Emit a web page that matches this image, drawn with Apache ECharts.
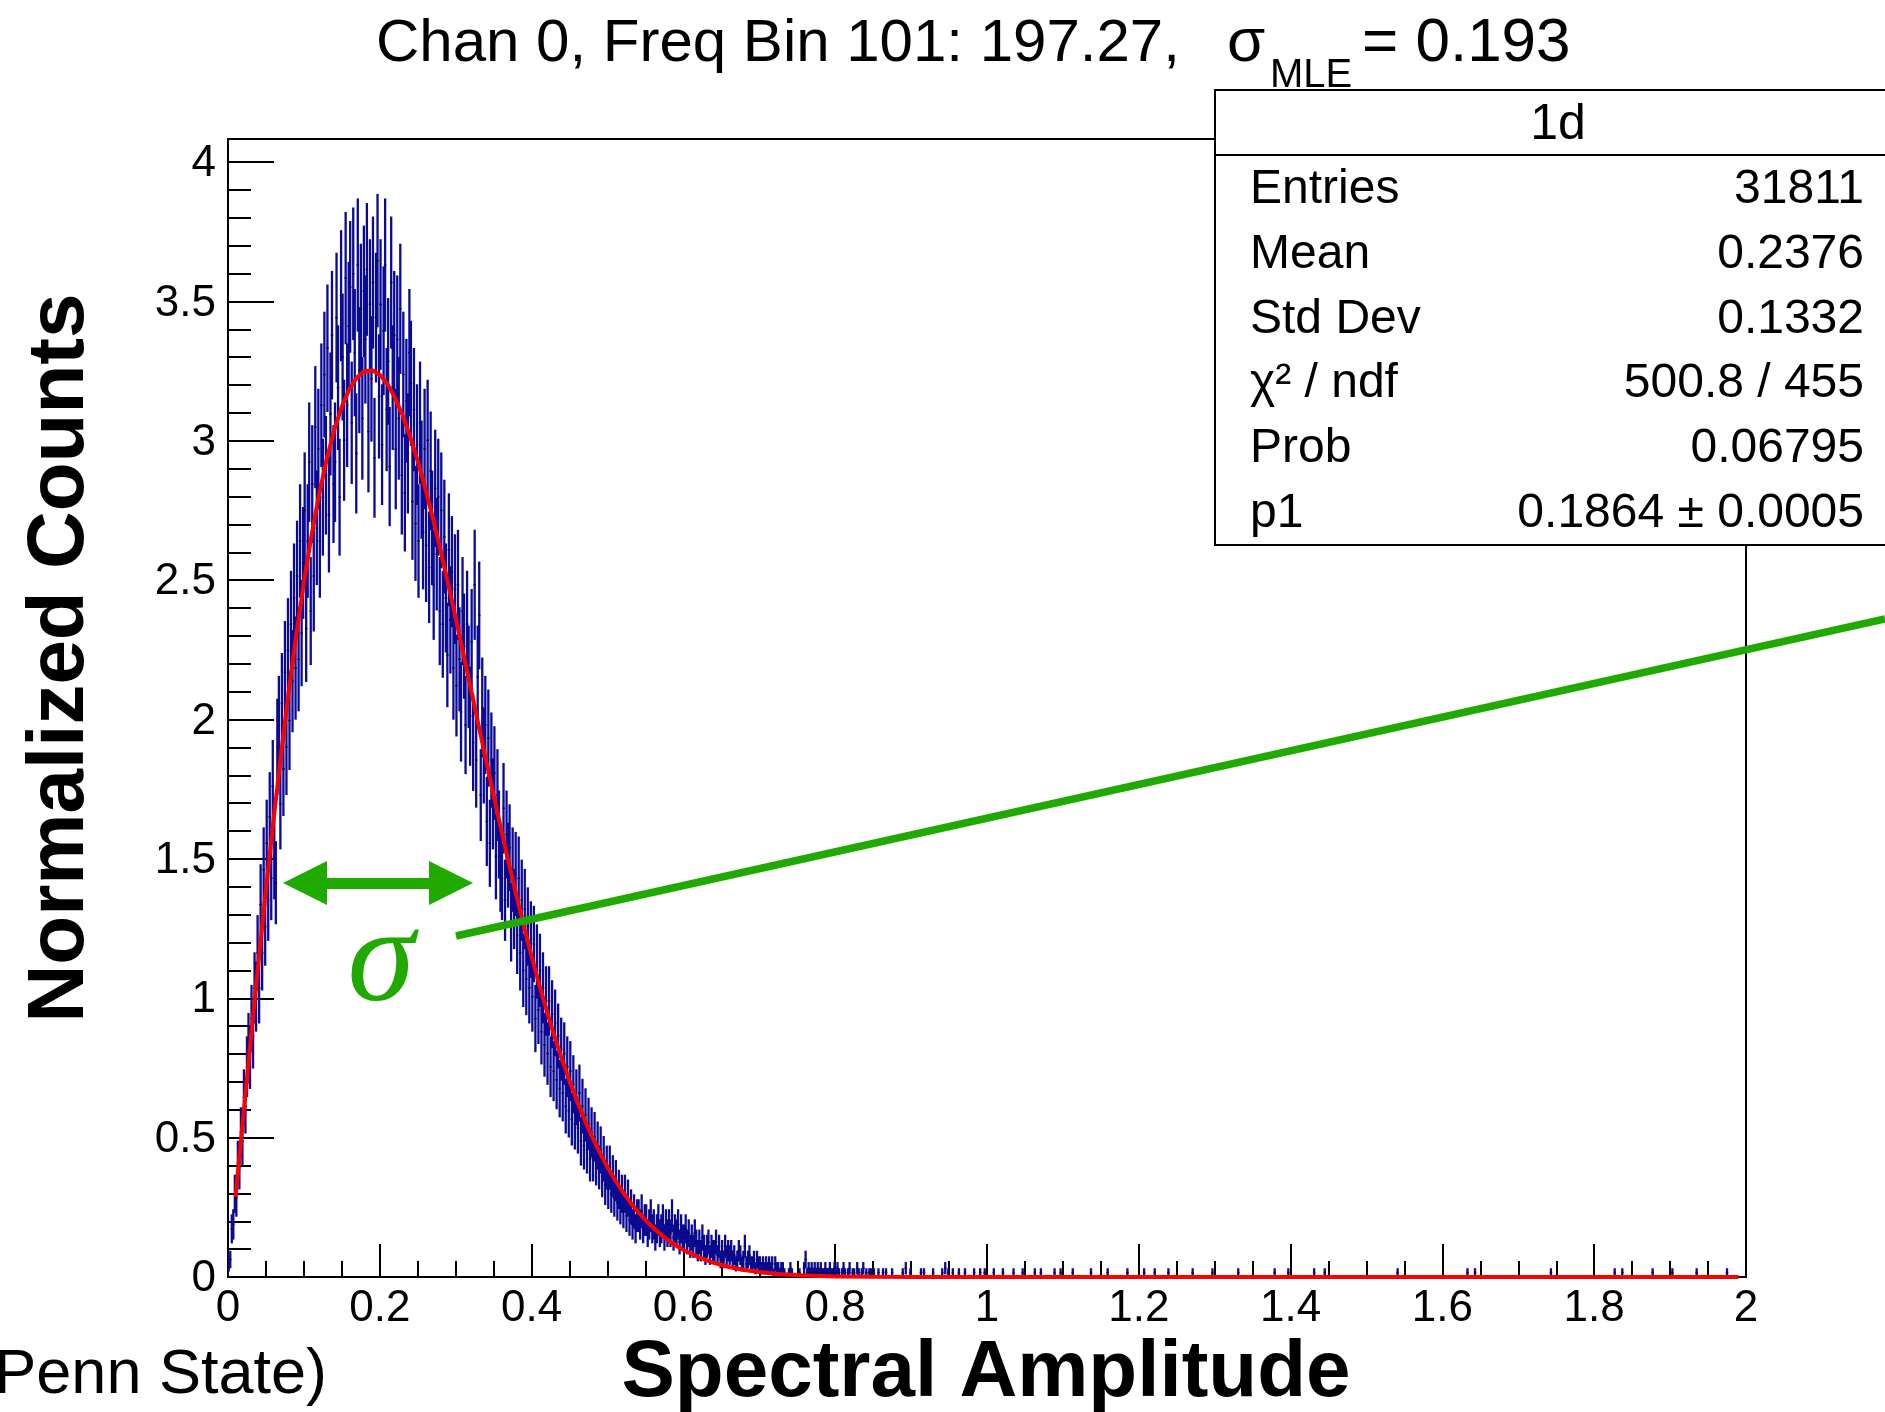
<!DOCTYPE html>
<html><head><meta charset="utf-8">
<script src="https://cdn.jsdelivr.net/npm/echarts@6/dist/echarts.min.js"></script>
<style>html,body{margin:0;padding:0;background:#fff}#c{width:1885px;height:1412px}</style>
</head><body><div id="c"></div>
<script>
// ---------------- data ----------------
const ENTRIES = 31811;
const BIN_WIDTH = 0.002;
// counts per bin, bins of width 0.002 starting at 0 (0 .. 0.8)
const counts = [
  3,4,11,12,19,18,26,25,33,31,
  41,39,48,53,50,59,55,66,64,74,
  66,85,74,93,80,99,86,105,91,112,
  96,90,121,126,108,131,116,138,121,143,
  127,149,136,155,139,160,141,168,147,163,
  175,148,168,186,152,181,160,194,171,189,
  168,199,178,206,183,212,174,197,215,181,
  186,219,203,178,224,210,191,228,199,217,
  226,195,229,211,188,231,207,221,196,225,
  214,230,193,222,205,227,187,219,232,201,
  222,190,216,231,198,209,185,227,203,215,
  189,214,196,221,183,206,179,200,188,211,
  204,177,198,172,190,168,195,182,170,189,
  167,191,162,184,171,158,180,165,178,152,
  175,149,169,155,142,166,150,161,139,157,
  135,158,141,129,152,144,126,149,137,128,
  145,122,158,118,137,151,110,130,119,126,
  104,123,99,118,108,115,96,110,101,93,
  91,107,86,101,94,98,81,93,84,92,
  78,91,74,86,70,84,68,80,66,77,
  64,76,59,72,61,70,56,66,53,63,
  51,63,48,60,47,58,45,55,43,52,
  42,51,39,48,38,47,36,44,35,41,
  34,42,31,39,30,37,29,35,27,33,
  27,32,26,30,25,29,23,27,21,25,
  20,25,19,23,18,22,17,20,16,19,
  15,19,14,18,13,16,12,15,11,14,
  14,12,15,11,13,13,10,12,14,11,
  12,9,11,13,10,11,13,9,12,10,
  12,10,14,9,11,10,12,8,11,9,
  9,11,8,10,7,9,7,10,8,6,
  8,6,9,7,5,7,8,5,7,6,
  6,8,5,7,4,6,4,7,5,6,
  5,6,4,5,3,4,6,5,3,4,
  7,3,4,5,3,3,4,2,4,3,
  3,2,3,2,3,2,3,2,3,1,
  3,2,2,1,2,2,1,0,0,1,
  2,1,0,0,0,0,1,0,0,2,
  4,1,2,1,2,1,2,1,2,1,
  2,1,1,2,1,1,2,1,1,2
];
// sparse tail beyond 0.8: [bin centre, count]
const tailBins = [
  [0.801,1],[0.803,2],[0.805,1],[0.809,1],[0.811,2],[0.813,1],[0.817,1],[0.819,2],
  [0.823,1],[0.825,1],[0.829,2],[0.831,1],[0.835,1],[0.837,2],[0.841,1],[0.845,1],
  [0.847,1],[0.851,1],[0.857,1],[0.863,1],[0.867,1],[0.875,1],[0.889,1],[0.893,2],
  [0.899,1],[0.913,1],[0.917,1],[0.929,1],[0.941,1],[0.945,2],[0.949,1],[0.955,1],
  [0.963,1],[0.971,1],[0.983,1],[0.991,1],[0.997,1],
  [1.009,1],[1.021,1],[1.035,1],[1.047,1],[1.063,1],[1.071,1],[1.089,1],[1.097,1],
  [1.113,1],[1.137,1],[1.159,1],[1.185,1],[1.207,1],[1.221,1],[1.239,1],[1.271,1],
  [1.297,1],[1.331,1],[1.379,1],[1.397,1],[1.431,1],[1.445,1],[1.541,1],[1.633,1],
  [1.643,1],[1.743,1],[1.827,1],[1.837,1],[1.877,1],[1.903,1],[1.935,1],[1.975,1]
];
// fitted curve (red)
const fitX = [0.01,0.02,0.03,0.04,0.05,0.06,0.07,0.08,0.09,
  0.10,0.11,0.12,0.13,0.14,0.15,0.16,0.17,0.18,0.19,
  0.20,0.21,0.22,0.23,0.24,0.25,0.26,0.27,0.28,0.29,
  0.30,0.31,0.32,0.33,0.34,0.35,0.36,0.37,0.38,0.39,
  0.40,0.41,0.42,0.43,0.44,0.45,0.46,0.47,0.48,0.49,
  0.50,0.51,0.52,0.53,0.54,0.55,0.56,0.57,0.58,0.59,
  0.60,0.62,0.64,0.66,0.68,0.70,0.72,0.74,0.76,0.80,0.85,0.90,1.0,1.5,1.99];
const fitY = [0.287,0.572,0.852,1.125,1.388,1.640,1.878,2.100,2.305,
  2.492,2.660,2.807,2.934,3.039,3.123,3.186,3.228,3.250,3.253,
  3.237,3.204,3.155,3.092,3.015,2.927,2.829,2.722,2.608,2.488,
  2.365,2.238,2.110,1.982,1.854,1.728,1.605,1.485,1.369,1.258,
  1.151,1.050,0.955,0.865,0.781,0.703,0.630,0.563,0.502,0.445,
  0.394,0.348,0.306,0.268,0.234,0.204,0.177,0.153,0.132,0.113,
  0.097,0.071,0.051,0.036,0.025,0.018,0.012,0.008,0.005,0.002,0.001,0.0002,0,0,0];
const yMajorTicks = [0,0.5,1,1.5,2,2.5,3,3.5,4];
const yMinorTicks = [0.1,0.2,0.3,0.4,0.6,0.7,0.8,0.9,1.1,1.2,1.3,1.4,1.6,1.7,1.8,1.9,
  2.1,2.2,2.3,2.4,2.6,2.7,2.8,2.9,3.1,3.2,3.3,3.4,3.6,3.7,3.8,3.9];
const titleMain = 'Chan 0, Freq Bin 101: 197.27,';
const titleSigma = 'σ';
const titleSub = 'MLE';
const titleEnd = '= 0.193';
const statsName = '1d';
const statsLabels = ['Entries','Mean','Std Dev','χ² / ndf','Prob','p1'];
const statsValues = ['31811','0.2376','0.1332','500.8 / 455','0.06795','0.1864 ± 0.0005'];
const xTitle = 'Spectral Amplitude';
const yTitle = 'Normalized Counts';
const credit = '(Penn State)';

// ---------------- build ----------------
const NORM = ENTRIES * BIN_WIDTH;
const histData = [];
counts.forEach((n, i) => {
  if (n > 0) histData.push([(i + 0.5) * BIN_WIDTH, n / NORM, Math.sqrt(n) / NORM]);
});
tailBins.forEach(([x, n]) => histData.push([x, n / NORM, Math.sqrt(n) / NORM]));
const fitData = fitX.map((x, i) => [x, fitY[i]]);

const FONT = '"Liberation Sans", Arial, Helvetica, sans-serif';
const BLUE = '#0a0a96';
const GREEN = '#20aa00';
const Y_MAX = 4.083;

const chart = echarts.init(document.getElementById('c'), null, {renderer: 'canvas'});
const baseGraphic = [
  // title
  {type: 'text', x: 376, y: 44, z: 50, style: {text: titleMain, font: '60px ' + FONT, fill: '#000', textVerticalAlign: 'middle'}},
  {type: 'text', x: 1227, y: 44, z: 50, style: {text: titleSigma, font: '62px ' + FONT, fill: '#000', textVerticalAlign: 'middle'}},
  {type: 'text', x: 1270, y: 76, z: 50, style: {text: titleSub, font: '40px ' + FONT, fill: '#000', textVerticalAlign: 'middle'}},
  {type: 'text', x: 1362, y: 44, z: 50, style: {text: titleEnd, font: '62px ' + FONT, fill: '#000', textVerticalAlign: 'middle'}},
  // stats box
  {type: 'rect', z: 60, shape: {x: 1215, y: 90, width: 700, height: 455}, style: {fill: '#fff', stroke: '#000', lineWidth: 2}},
  {type: 'line', z: 61, shape: {x1: 1215, y1: 155, x2: 1885, y2: 155}, style: {stroke: '#000', lineWidth: 2}},
  {type: 'text', z: 62, x: 1558, y: 125, style: {text: statsName, font: '50px ' + FONT, fill: '#000', textAlign: 'center', textVerticalAlign: 'middle'}},
  ...statsLabels.map((t, i) => ({type: 'text', z: 62, x: 1250, y: 190 + i * 64.7,
    style: {text: t, font: '48px ' + FONT, fill: '#000', textVerticalAlign: 'middle'}})),
  ...statsValues.map((t, i) => ({type: 'text', z: 62, x: 1864, y: 190 + i * 64.7,
    style: {text: t, font: '48px ' + FONT, fill: '#000', textAlign: 'right', textVerticalAlign: 'middle'}})),
  // axis titles
  {type: 'text', z: 50, x: 61, y: 658, rotation: Math.PI / 2,
    style: {text: yTitle, font: 'bold 80px ' + FONT, fill: '#000', textAlign: 'center', textVerticalAlign: 'middle'}},
  {type: 'text', z: 50, x: 986, y: 1374,
    style: {text: xTitle, font: 'bold 80px ' + FONT, fill: '#000', textAlign: 'center', textVerticalAlign: 'middle'}},
  {type: 'text', z: 50, x: 327, y: 1376,
    style: {text: credit, font: '63px ' + FONT, fill: '#000', textAlign: 'right', textVerticalAlign: 'middle'}},
  // green annotation
  {type: 'line', z: 40, shape: {x1: 456, y1: 936, x2: 1885, y2: 619}, style: {stroke: GREEN, lineWidth: 7.5}},
  {type: 'polygon', z: 40, shape: {points: [[283,883],[327,861],[327,878],[429,878],[429,861],[473,883],[429,905],[429,889],[327,889],[327,905]]},
    style: {fill: GREEN}},
  {type: 'text', z: 40, x: 381, y: 964,
    style: {text: 'σ', font: 'italic 136px "Liberation Serif", "Times New Roman", serif', fill: GREEN, textAlign: 'center', textVerticalAlign: 'middle'}}
];

chart.setOption({
  animation: false,
  backgroundColor: '#fff',
  grid: {left: 228, top: 139, width: 1518, height: 1138, containLabel: false,
    outerBoundsMode: 'none', show: true, borderColor: '#000', borderWidth: 2, backgroundColor: 'transparent'},
  xAxis: {
    type: 'value', min: 0, max: 2, interval: 0.2,
    axisLine: {show: true, lineStyle: {color: '#000', width: 2}},
    axisTick: {show: true, inside: true, length: 33, lineStyle: {color: '#000', width: 2}},
    minorTick: {show: true, splitNumber: 4, length: 16, lineStyle: {color: '#000', width: 2}},
    splitLine: {show: false}, minorSplitLine: {show: false},
    axisLabel: {fontFamily: FONT, fontSize: 44, color: '#000', margin: 10}
  },
  yAxis: [{
    type: 'value', min: 0, max: Y_MAX, position: 'left',
    axisLine: {show: true, lineStyle: {color: '#000', width: 2}},
    axisTick: {show: true, inside: true, length: 46, customValues: yMajorTicks, lineStyle: {color: '#000', width: 2}},
    splitLine: {show: false},
    axisLabel: {show: false}
  }, {
    type: 'value', min: 0, max: Y_MAX, position: 'left', offset: 0,
    axisLine: {show: false},
    axisTick: {show: true, inside: true, length: 23, customValues: yMinorTicks, lineStyle: {color: '#000', width: 2}},
    splitLine: {show: false},
    axisLabel: {show: false}
  }],
  series: [{
    type: 'custom', z: 3, clip: true, silent: true,
    encode: {x: 0, y: 1},
    data: histData,
    renderItem: function (params, api) {
      const x = api.value(0), v = api.value(1), e = api.value(2);
      const pTop = api.coord([x, v + e]);
      const pBot = api.coord([x, Math.max(v - e, 0)]);
      const pL = api.coord([x - BIN_WIDTH / 2, v]);
      const pR = api.coord([x + BIN_WIDTH / 2, v]);
      return {type: 'group', children: [
        {type: 'line', shape: {x1: pTop[0], y1: pTop[1], x2: pBot[0], y2: pBot[1]}, style: {stroke: BLUE, lineWidth: 2.3}},
        {type: 'line', shape: {x1: pL[0] - 0.5, y1: pL[1], x2: pR[0] + 0.5, y2: pR[1]}, style: {stroke: '#0a0a40', lineWidth: 1.5}}
      ]};
    }
  }, {
    type: 'line', z: 5, silent: true, data: fitData, showSymbol: false, symbol: 'none',
    lineStyle: {color: '#ff0000', width: 4}, clip: true
  }],
  graphic: baseGraphic
});

// y tick labels placed through the axis scale
const yLabels = yMajorTicks.map(v => ({
  type: 'text', z: 50, x: 216, y: chart.convertToPixel({yAxisIndex: 0}, v) + 2,
  style: {text: String(v), font: '44px ' + FONT, fill: '#000', textAlign: 'right', textVerticalAlign: 'middle'}
}));
chart.setOption({graphic: baseGraphic.concat(yLabels)});
</script>
</body></html>
